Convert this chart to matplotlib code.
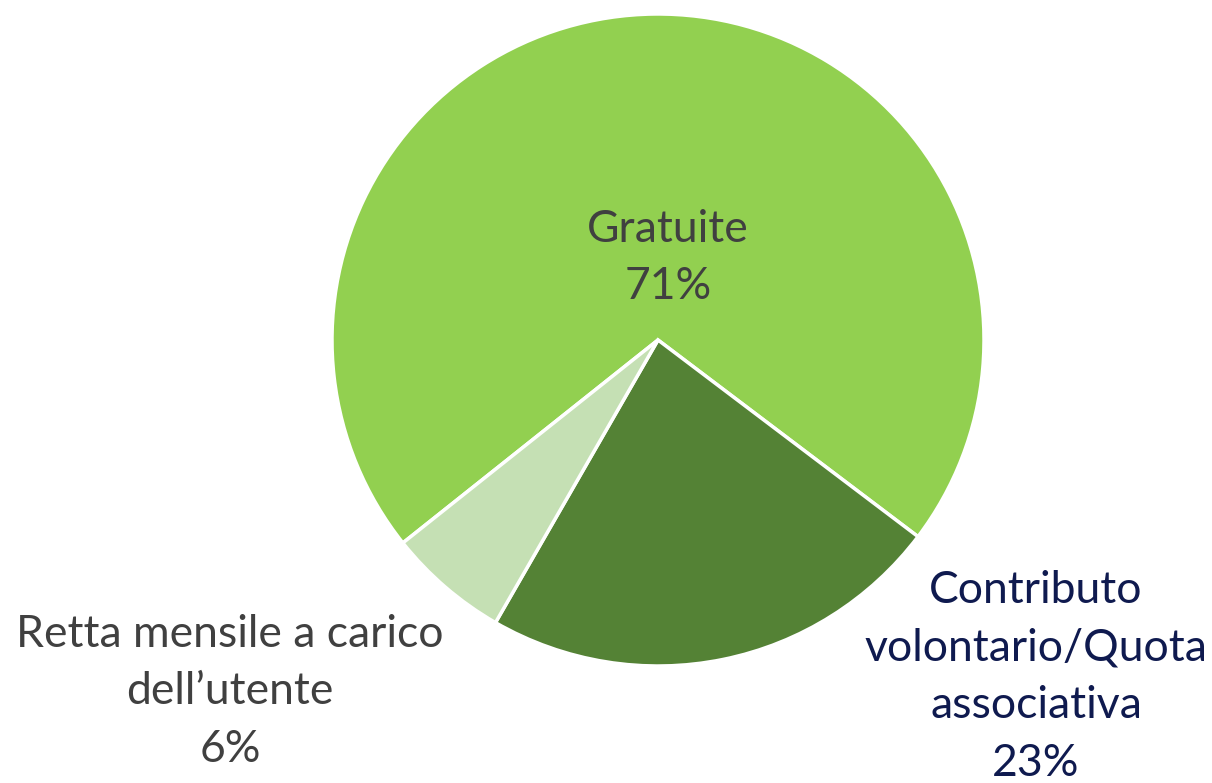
import matplotlib
matplotlib.use("Agg")
import matplotlib.pyplot as plt

labels = ["Gratuite", "Contributo\nvolontario/Quota\nassociativa", "Retta mensile a carico\ndell\u2019utente"]
values = [71, 23, 6]
colors = ["#92D050", "#548235", "#C5E0B4"]
text_colors = ["#404040", "#0F1A4F", "#404040"]

W, H = 1212, 783
fig = plt.figure(figsize=(W / 100, H / 100), dpi=100)
ax = fig.add_axes([0, 0, 1, 1])

cx, cy, r = 658, H - 340, 326
ax.pie(values, colors=colors, startangle=218.5, counterclock=False,
       center=(cx, cy), radius=r, frame=True,
       wedgeprops=dict(edgecolor="white", linewidth=2.5))
ax.set_xlim(0, W)
ax.set_ylim(0, H)
ax.set_aspect("equal")
ax.axis("off")

# label positions (pixel centres)
pos = [(668, 258), (1036, 677), (230, 692)]
for lab, v, c, (x, y) in zip(labels, values, text_colors, pos):
    ax.text(x, H - y, f"{lab}\n{v}%", ha="center", va="center", ma="center",
            fontsize=32, family="Lato", color=c, linespacing=1.5)

fig.savefig("out.png", dpi=100)
